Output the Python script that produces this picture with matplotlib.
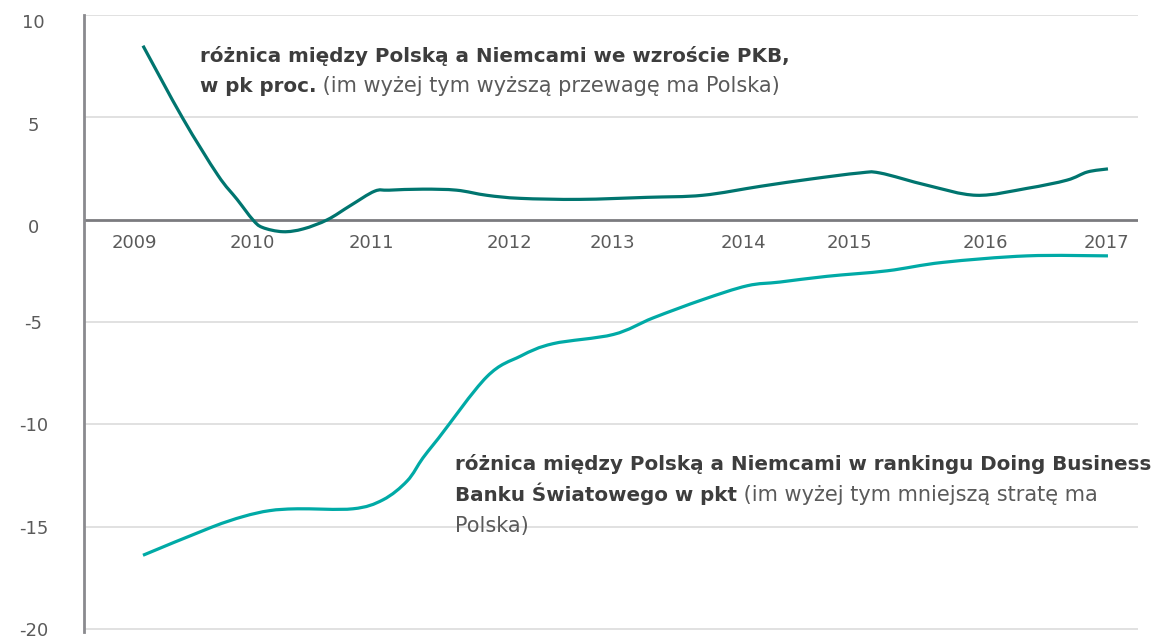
import matplotlib
matplotlib.use("Agg")
import matplotlib.pyplot as plt
from matplotlib.path import Path
from matplotlib.patches import PathPatch
from matplotlib.transforms import ScaledTranslation

# ---------------- data ----------------
gdp_x = [2009.00, 2009.33, 2009.62, 2009.78, 2009.91, 2009.99, 2010.16, 2010.33,
         2010.53, 2010.72, 2010.92, 2011.04, 2011.32, 2011.60, 2011.85, 2012.13,
         2012.62, 2013.18, 2013.64, 2014.12, 2014.53, 2014.94, 2015.11, 2015.50,
         2015.91, 2016.33, 2016.66, 2016.83, 2017.00]
gdp_y = [8.5, 4.95, 2.18, 0.99, 0.0, -0.38, -0.59, -0.45,
         0.0, 0.69, 1.39, 1.44, 1.49, 1.44, 1.19, 1.04,
         0.99, 1.09, 1.19, 1.63, 1.98, 2.28, 2.28, 1.68,
         1.19, 1.53, 1.93, 2.33, 2.48]

db_x = [2009.00, 2009.56, 2009.83, 2010.05, 2010.28, 2010.74, 2010.99, 2011.19,
        2011.32, 2011.45, 2011.85, 2012.13, 2012.40, 2012.90, 2013.23, 2013.64,
        2014.01, 2014.28, 2014.67, 2015.17, 2015.63, 2016.33, 2017.00]
db_y = [-16.4, -15.05, -14.51, -14.22, -14.13, -14.13, -13.69, -12.77,
        -11.65, -10.68, -7.68, -6.67, -6.06, -5.61, -4.80, -3.91,
        -3.23, -3.05, -2.77, -2.50, -2.09, -1.77, -1.77]

year_labels = ["2009", "2010", "2011", "2012", "2013", "2014", "2015", "2016", "2017"]
year_pos = [2008.93, 2009.91, 2010.89, 2012.04, 2012.89, 2013.98, 2014.86, 2015.98, 2016.99]
y_ticks = [10, 5, 0, -5, -10, -15, -20]

gdp_color = "#00756f"
db_color = "#00aaa6"
txt_dark = "#3d3d3d"
txt_light = "#5a5a5a"

W, H = 1154, 641
fig = plt.figure(figsize=(W / 100, H / 100), dpi=100)
ax = fig.add_axes([84 / W, 1 - 632 / H, (1138 - 84) / W, (632 - 15) / H])

ax.set_xlim(2008.511, 2017.249)
ax.set_ylim(-20.15, 10)

for v in y_ticks:
    if v != 0:
        ax.axhline(v, color="#dedede", lw=1.3, zorder=1)
ax.axhline(0, color="#7b7b7f", lw=2.0, zorder=2)


def smooth_line(xs, ys, color):
    """Smooth curve through the data points (Catmull-Rom as cubic Bezier)."""
    n = len(xs)
    verts = [(xs[0], ys[0])]
    codes = [Path.MOVETO]
    for i in range(n - 1):
        x0, y0 = (xs[i - 1], ys[i - 1]) if i > 0 else (xs[i], ys[i])
        x1, y1 = xs[i], ys[i]
        x2, y2 = xs[i + 1], ys[i + 1]
        x3, y3 = (xs[i + 2], ys[i + 2]) if i + 2 < n else (x2, y2)
        c1 = (x1 + (x2 - x0) / 6, y1 + (y2 - y0) / 6)
        c2 = (x2 - (x3 - x1) / 6, y2 - (y3 - y1) / 6)
        verts += [c1, c2, (x2, y2)]
        codes += [Path.CURVE4] * 3
    patch = PathPatch(Path(verts, codes), facecolor="none", edgecolor=color,
                      lw=2.3, capstyle="butt", joinstyle="round", zorder=3)
    ax.add_patch(patch)


smooth_line(gdp_x, gdp_y, gdp_color)
smooth_line(db_x, db_y, db_color)

for s in ["top", "right", "bottom"]:
    ax.spines[s].set_visible(False)
ax.spines["left"].set_color("#8a8a8e")
ax.spines["left"].set_linewidth(2.0)

font = "DejaVu Sans"
ax.set_yticks(y_ticks)
ax.set_yticklabels([str(v) for v in y_ticks], fontsize=13, color=txt_light,
                   family=font)
ax.tick_params(axis="y", length=0, pad=0)
for lab in ax.get_yticklabels():
    lab.set_horizontalalignment("center")
    lab.set_x(-0.048)
for lab, v in zip(ax.get_yticklabels(), y_ticks):
    if v >= 0:
        lab.set_transform(lab.get_transform() + ScaledTranslation(0, -6.5 / 100, fig.dpi_scale_trans))

ax.set_xticks([])
for lbl, xp in zip(year_labels, year_pos):
    t = ax.text(xp, 0, lbl, ha="center", va="top", fontsize=13,
                color=txt_light, family=font, zorder=4)
    t.set_transform(ax.transData + ScaledTranslation(0, -14 / 100, fig.dpi_scale_trans))

# ---------------- annotations ----------------
def px(x, y):
    return x / W, 1 - y / H

fig.canvas.draw()
renderer = fig.canvas.get_renderer()

def rich_line(x, y, bold, light, bsize=14.3, lsize=15):
    xs, ys = px(x, y)
    xl = xs
    if bold:
        t = fig.text(xs, ys, bold, fontsize=bsize, fontweight="bold", color=txt_dark,
                     family=font, va="baseline", ha="left")
        bb = t.get_window_extent(renderer)
        xl = bb.x1 / W
    if light:
        fig.text(xl, ys, light, fontsize=lsize, color=txt_light,
                 family=font, va="baseline", ha="left")

rich_line(200, 62, "różnica między Polską a Niemcami we wzroście PKB,", None)
rich_line(200, 92, "w pk proc.", " (im wyżej tym wyższą przewagę ma Polska)")
rich_line(455, 470, "różnica między Polską a Niemcami w rankingu Doing Business", None)
rich_line(455, 501, "Banku Światowego w pkt", " (im wyżej tym mniejszą stratę ma")
rich_line(455, 532, None, "Polska)")

fig.savefig("out.png", dpi=100)
